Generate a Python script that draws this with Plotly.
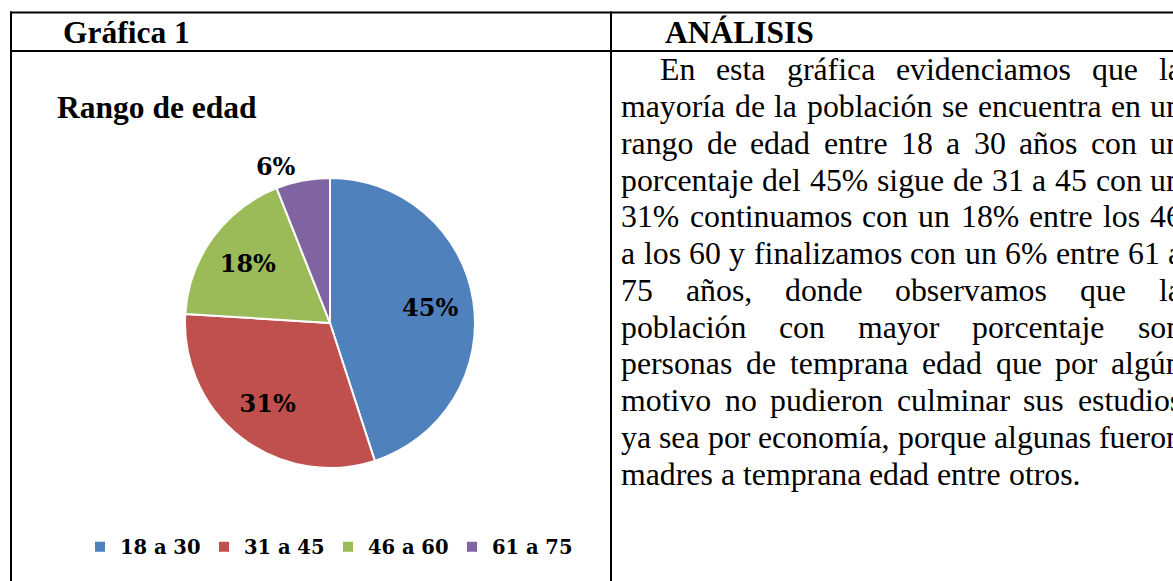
import plotly.graph_objects as go

# ---------------- data ----------------
categories = ["18 a 30", "31 a 45", "46 a 60", "61 a 75"]
values = [45, 31, 18, 6]
colors = ["#4F81BD", "#C0504D", "#9BBB59", "#8064A2"]
label_positions = ["inside", "inside", "inside", "outside"]

chart_title = "Rango de edad"
left_header = "Gráfica 1"
right_header = "ANÁLISIS"
paragraph_lines = [
    "En esta gráfica evidenciamos que la",
    "mayoría de la población se encuentra en un",
    "rango de edad entre 18 a 30 años con un",
    "porcentaje del 45% sigue de 31 a 45 con un",
    "31% continuamos con un 18% entre los 46",
    "a los 60 y finalizamos con un 6% entre 61 a",
    "75 años, donde observamos que la",
    "población con mayor porcentaje son",
    "personas de temprana edad que por algún",
    "motivo no pudieron culminar sus estudios",
    "ya sea por economía, porque algunas fueron",
    "madres a temprana edad entre otros.",
]

# ---------------- layout helpers ----------------
W, H = 1173, 581
def px(x):                  # window pixel -> paper fraction
    return x / W
def py(y):
    return 1 - y / H

SERIF = "Liberation Serif, Times New Roman, serif"
LABEL_FONT = "DejaVu Serif, Cambria, serif"

# Times/Liberation Serif regular advance widths (per 1000 em) for justification
TNR = {
    "a": 444, "b": 500, "c": 444, "d": 500, "e": 444, "f": 333, "g": 500, "h": 500,
    "i": 278, "j": 278, "k": 500, "l": 278, "m": 778, "n": 500, "o": 500, "p": 500,
    "q": 500, "r": 333, "s": 389, "t": 278, "u": 500, "v": 500, "w": 722, "x": 500,
    "y": 500, "z": 444, "E": 611, "%": 833, ",": 250, ".": 250, " ": 250,
    "á": 444, "é": 444, "í": 278, "ó": 500, "ú": 500, "ñ": 500,
}
def tw(s, size):
    return sum(TNR.get(ch, 500) for ch in s) / 1000.0 * size

# ---------------- figure ----------------
fig = go.Figure()
pie_domain = dict(x=[px(185), px(475)], y=[py(468), py(178)])

# pie slices (colours + legend)
fig.add_trace(go.Pie(
    labels=categories, values=values, sort=False, direction="clockwise", rotation=0,
    marker=dict(colors=colors, line=dict(color="white", width=2)),
    textinfo="none", hoverinfo="label+percent",
    domain=pie_domain,
    showlegend=True,
))
# data labels (transparent ring so labels sit where Excel puts them)
fig.add_trace(go.Pie(
    labels=categories, values=values, sort=False, direction="clockwise", rotation=0,
    hole=0.4,
    marker=dict(colors=["rgba(0,0,0,0)"] * len(values), line=dict(width=0)),
    texttemplate="%{value}%", textposition=label_positions,
    insidetextorientation="horizontal",
    textfont=dict(family=LABEL_FONT, size=24, color="black", weight="bold"),
    hoverinfo="skip",
    domain=pie_domain,
    showlegend=False,
))

annotations = []
# headers
for txt, x0 in ((left_header, 63), (right_header, 665)):
    annotations.append(dict(text="<b>%s</b>" % txt, x=px(x0), y=py(32), xref="paper", yref="paper",
                            xanchor="left", yanchor="middle", showarrow=False, borderpad=0, borderwidth=0,
                            font=dict(family=SERIF, size=31.5, color="black")))

# justified paragraph
FS = 31.8
LEFT, INDENT_LEFT, RIGHT = 621, 660, 1182
BASE0, LINE_H = 80.7, 36.75
for i, line in enumerate(paragraph_lines):
    words = line.split(" ")
    left = INDENT_LEFT if i == 0 else LEFT
    widths = [tw(w_, FS) for w_ in words]
    space = tw(" ", FS)
    if i < len(paragraph_lines) - 1 and len(words) > 1:
        gap = max(space, (RIGHT - left - sum(widths)) / (len(words) - 1))
    else:
        gap = space
    yc = BASE0 + i * LINE_H - 0.3375 * FS
    xcur = left
    for w_, wd in zip(words, widths):
        annotations.append(dict(text=w_, x=px(xcur), y=py(yc), xref="paper", yref="paper",
                                xanchor="left", yanchor="middle", showarrow=False,
                                borderpad=0, borderwidth=0,
                                font=dict(family=SERIF, size=FS, color="black")))
        xcur += wd + gap

# table frame
line_style = dict(color="black", width=2)
shapes = [
    dict(type="line", xref="paper", yref="paper", x0=px(10), x1=1.01, y0=py(12.5), y1=py(12.5), line=line_style),
    dict(type="line", xref="paper", yref="paper", x0=px(10), x1=1.01, y0=py(51), y1=py(51), line=line_style),
    dict(type="line", xref="paper", yref="paper", x0=px(11), x1=px(11), y0=py(11.5), y1=-0.01, line=line_style),
    dict(type="line", xref="paper", yref="paper", x0=px(611), x1=px(611), y0=py(11.5), y1=-0.01, line=line_style),
]

fig.update_layout(
    width=W, height=H,
    margin=dict(l=0, r=0, t=0, b=0),
    paper_bgcolor="white", plot_bgcolor="white",
    title=dict(text="<b>%s</b>" % chart_title, x=px(57), xanchor="left", xref="paper",
               y=py(107), yanchor="middle", yref="container",
               font=dict(family=SERIF, size=31.5, color="black")),
    legend=dict(orientation="h", x=px(80), xanchor="left", y=py(547), yanchor="middle",
                font=dict(family=LABEL_FONT, size=19.5, color="black", weight="bold"),
                entrywidth=79, entrywidthmode="pixels", bgcolor="rgba(0,0,0,0)",
                traceorder="normal"),
    annotations=annotations,
    shapes=shapes,
)

fig.write_html(
    "out.html",
    config={"displayModeBar": False},
    post_script="document.body.style.margin='0';document.body.style.overflow='hidden';",
)
